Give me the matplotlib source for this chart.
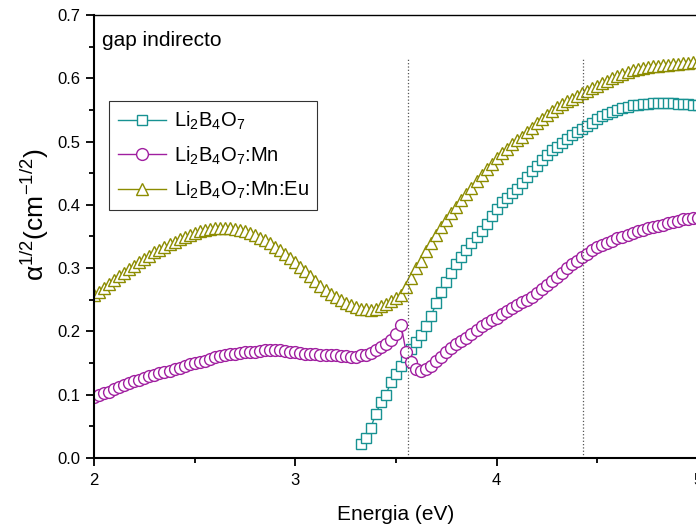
import matplotlib
matplotlib.use("Agg")
import matplotlib.pyplot as plt
from matplotlib.ticker import MultipleLocator

# --- Data (energy in eV, alpha^1/2) ---
energy = [
    2.000, 2.025, 2.050, 2.075, 2.100, 2.125, 2.150, 2.175, 2.200, 2.225,
    2.250, 2.275, 2.300, 2.325, 2.350, 2.375, 2.400, 2.425, 2.450, 2.475,
    2.500, 2.525, 2.550, 2.575, 2.600, 2.625, 2.650, 2.675, 2.700, 2.725,
    2.750, 2.775, 2.800, 2.825, 2.850, 2.875, 2.900, 2.925, 2.950, 2.975,
    3.000, 3.025, 3.050, 3.075, 3.100, 3.125, 3.150, 3.175, 3.200, 3.225,
    3.250, 3.275, 3.300, 3.325, 3.350, 3.375, 3.400, 3.425, 3.450, 3.475,
    3.500, 3.525, 3.550, 3.575, 3.600, 3.625, 3.650, 3.675, 3.700, 3.725,
    3.750, 3.775, 3.800, 3.825, 3.850, 3.875, 3.900, 3.925, 3.950, 3.975,
    4.000, 4.025, 4.050, 4.075, 4.100, 4.125, 4.150, 4.175, 4.200, 4.225,
    4.250, 4.275, 4.300, 4.325, 4.350, 4.375, 4.400, 4.425, 4.450, 4.475,
    4.500, 4.525, 4.550, 4.575, 4.600, 4.625, 4.650, 4.675, 4.700, 4.725,
    4.750, 4.775, 4.800, 4.825, 4.850, 4.875, 4.900, 4.925, 4.950, 4.975,
    5.000,
]

mn_eu = [
    0.258, 0.263, 0.269, 0.275, 0.281, 0.287, 0.292, 0.298, 0.303, 0.309,
    0.314, 0.319, 0.325, 0.329, 0.334, 0.338, 0.342, 0.346, 0.350, 0.353,
    0.356, 0.358, 0.360, 0.362, 0.363, 0.364, 0.364, 0.363, 0.362, 0.360,
    0.358, 0.355, 0.352, 0.348, 0.344, 0.339, 0.334, 0.328, 0.322, 0.316,
    0.309, 0.302, 0.295, 0.287, 0.279, 0.272, 0.265, 0.259, 0.254, 0.249,
    0.245, 0.241, 0.238, 0.236, 0.235, 0.234, 0.236, 0.240, 0.244, 0.248,
    0.253, 0.258, 0.270, 0.285, 0.300, 0.311, 0.327, 0.340, 0.353, 0.365,
    0.376, 0.387, 0.397, 0.407, 0.417, 0.427, 0.437, 0.447, 0.456, 0.465,
    0.474, 0.482, 0.489, 0.496, 0.502, 0.508, 0.515, 0.522, 0.529, 0.536,
    0.542, 0.549, 0.555, 0.559, 0.564, 0.568, 0.572, 0.576, 0.580, 0.584,
    0.588, 0.592, 0.596, 0.600, 0.604, 0.607, 0.610, 0.613, 0.615, 0.617,
    0.618, 0.619, 0.620, 0.621, 0.621, 0.622, 0.623, 0.624, 0.624, 0.625,
    0.625,
]

mn = [
    0.096, 0.099, 0.102, 0.105, 0.109, 0.112, 0.116, 0.119, 0.122, 0.124,
    0.127, 0.129, 0.131, 0.134, 0.136, 0.138, 0.141, 0.143, 0.145, 0.148,
    0.150, 0.152, 0.154, 0.157, 0.159, 0.161, 0.163, 0.164, 0.165, 0.166,
    0.167, 0.168, 0.168, 0.169, 0.170, 0.171, 0.171, 0.170, 0.169, 0.168,
    0.167, 0.166, 0.165, 0.164, 0.164, 0.163, 0.163, 0.162, 0.162, 0.161,
    0.161, 0.160, 0.160, 0.162, 0.163, 0.166, 0.170, 0.175, 0.180, 0.186,
    0.196, 0.210, 0.168, 0.152, 0.140, 0.137, 0.140, 0.146, 0.153, 0.160,
    0.167, 0.174, 0.180, 0.185, 0.190, 0.196, 0.203, 0.209, 0.214, 0.218,
    0.222, 0.227, 0.232, 0.237, 0.242, 0.246, 0.250, 0.254, 0.261, 0.267,
    0.273, 0.279, 0.286, 0.293, 0.300, 0.307, 0.312, 0.317, 0.322, 0.328,
    0.333, 0.336, 0.340, 0.343, 0.347, 0.350, 0.353, 0.356, 0.359, 0.361,
    0.363, 0.365, 0.366, 0.368, 0.371, 0.373, 0.375, 0.377, 0.378, 0.379,
    0.380,
]

energy_pure = [
    3.325, 3.350, 3.375, 3.400, 3.425, 3.450, 3.475, 3.500, 3.525, 3.550,
    3.575, 3.600, 3.625, 3.650, 3.675, 3.700, 3.725, 3.750, 3.775, 3.800,
    3.825, 3.850, 3.875, 3.900, 3.925, 3.950, 3.975, 4.000, 4.025, 4.050,
    4.075, 4.100, 4.125, 4.150, 4.175, 4.200, 4.225, 4.250, 4.275, 4.300,
    4.325, 4.350, 4.375, 4.400, 4.425, 4.450, 4.475, 4.500, 4.525, 4.550,
    4.575, 4.600, 4.625, 4.650, 4.675, 4.700, 4.725, 4.750, 4.775, 4.800,
    4.825, 4.850, 4.875, 4.900, 4.925, 4.950, 4.975, 5.000,
]

pure = [
    0.022, 0.032, 0.048, 0.070, 0.088, 0.100, 0.120, 0.133, 0.146, 0.160,
    0.172, 0.183, 0.194, 0.208, 0.225, 0.245, 0.262, 0.278, 0.292, 0.306,
    0.318, 0.329, 0.339, 0.349, 0.359, 0.370, 0.382, 0.394, 0.404, 0.411,
    0.418, 0.425, 0.434, 0.444, 0.453, 0.462, 0.471, 0.479, 0.486, 0.492,
    0.498, 0.504, 0.510, 0.515, 0.520, 0.525, 0.530, 0.535, 0.540, 0.544,
    0.547, 0.550, 0.553, 0.555, 0.557, 0.558, 0.559, 0.560, 0.561, 0.561,
    0.561, 0.561, 0.561, 0.560, 0.560, 0.559, 0.558, 0.558,
]

# gap marks (eV)
gap_lines = [3.56, 4.43]

labels = [r"Li$_2$B$_4$O$_7$", r"Li$_2$B$_4$O$_7$:Mn", r"Li$_2$B$_4$O$_7$:Mn:Eu"]
COLORS = ["#179292", "#A01FA0", "#8C8C00"]

plt.rcParams.update({
    "font.family": "Liberation Sans",
    "mathtext.fontset": "custom",
    "mathtext.rm": "Liberation Sans",
    "mathtext.it": "Liberation Sans:italic",
    "mathtext.bf": "Liberation Sans:bold",
})

fig = plt.figure(figsize=(6.96, 5.29), dpi=100)
ax = fig.add_axes([94 / 696, 71 / 529, 604 / 696, 443 / 529])

ax.plot(energy_pure, pure, color=COLORS[0], marker="s", ms=7, mfc="white",
        mew=1.0, lw=1.0, label=labels[0])
ax.plot(energy, mn, color=COLORS[1], marker="o", ms=8.5, mfc="white",
        mew=1.0, lw=1.0, label=labels[1])
ax.plot(energy, mn_eu, color=COLORS[2], marker="^", ms=9, mfc="white",
        mew=1.0, lw=1.0, label=labels[2])

ax.vlines(gap_lines, 0, 0.63, colors="#555555", linestyles=":", lw=0.9)

ax.set_xlim(2, 5)
ax.set_ylim(0, 0.7)
ax.xaxis.set_major_locator(MultipleLocator(1))
ax.xaxis.set_minor_locator(MultipleLocator(0.5))
ax.yaxis.set_major_locator(MultipleLocator(0.1))
ax.yaxis.set_minor_locator(MultipleLocator(0.05))
ax.yaxis.set_major_formatter(plt.FuncFormatter(lambda v, _: f"{v:.1f}"))

ax.tick_params(which="major", direction="out", length=6, width=1.3,
               labelsize=12, top=False, right=False)
ax.tick_params(which="minor", direction="out", length=3.5, width=1.3,
               top=False, right=False)
ax.tick_params(axis="x", pad=5)

for side in ["left", "bottom"]:
    ax.spines[side].set_linewidth(1.5)
ax.spines["top"].set_linewidth(1.0)
ax.spines["right"].set_linewidth(1.0)

ax.set_xlabel("Energia (eV)", fontsize=15, labelpad=12)
ax.set_ylabel("α$^{1/2}$(cm$^{-1/2}$)", fontsize=19)
ax.yaxis.set_label_coords(-0.072, 0.549)

ax.text(0.014, 0.965, "gap indirecto", transform=ax.transAxes,
        fontsize=15, ha="left", va="top")

leg = ax.legend(loc="upper left", bbox_to_anchor=(0.025, 0.806),
                fontsize=14.5, frameon=True, fancybox=False, handlelength=2.4,
                handletextpad=0.35, borderpad=0.45, labelspacing=0.6,
                borderaxespad=0)
leg.get_frame().set_edgecolor("black")
leg.get_frame().set_linewidth(0.8)

fig.savefig("out.png", dpi=100)
